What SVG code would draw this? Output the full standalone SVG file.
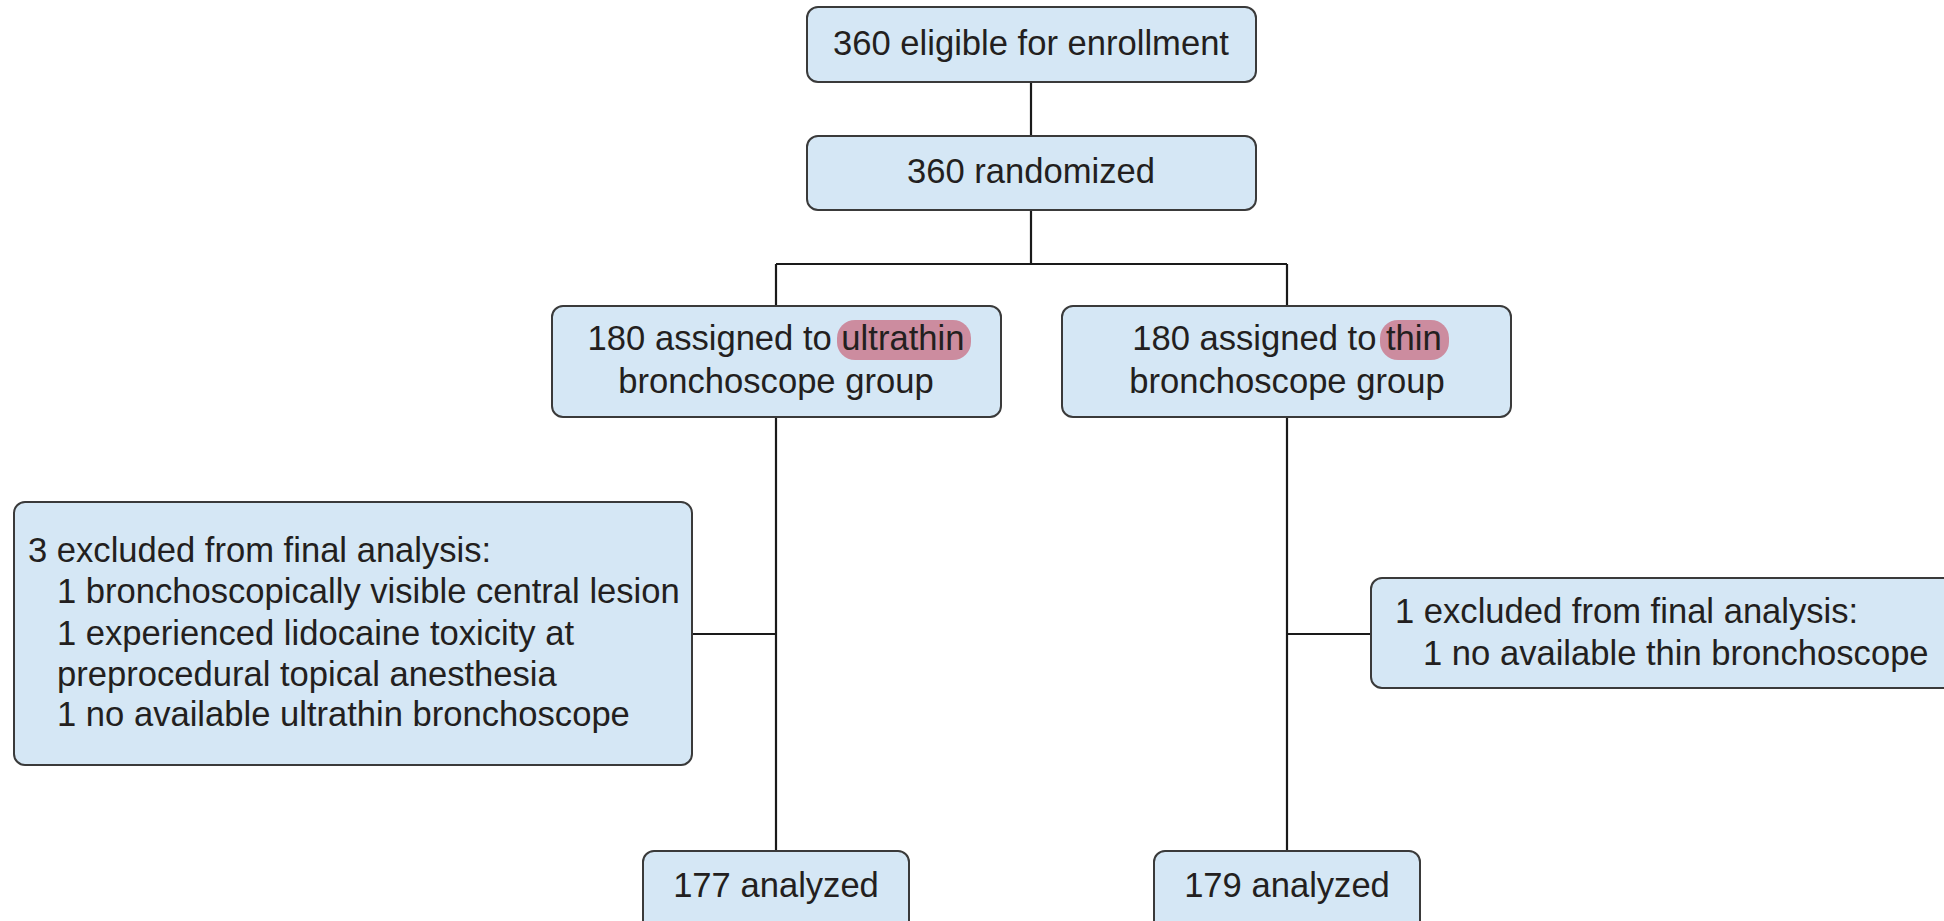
<svg xmlns="http://www.w3.org/2000/svg" width="1944" height="921" viewBox="0 0 1944 921">
<style>
.box{fill:#d5e7f5;stroke:#3a3a3a;stroke-width:2}
.t{font-family:"Liberation Sans",Arial,sans-serif;font-size:34.6px;fill:#231f20}
.c{text-anchor:middle}
.hl{fill:#cc8c9f}
.ln{stroke:#1a1a1a;stroke-width:2.2;fill:none}
</style>
<rect width="1944" height="921" fill="#ffffff"/>
<g id="connectors">
<path class="ln" d="M1031 82 V136"/>
<path class="ln" d="M1031 210 V264 M776 264 H1287 M776 264 V306 M1287 264 V306"/>
<path class="ln" d="M776 417 V851 M692 634 H776"/>
<path class="ln" d="M1287 417 V851 M1287 634 H1371"/>
</g>
<g id="n1">
<rect class="box" x="807" y="7" width="449" height="75" rx="11"/>
<text class="t c" x="1031" y="55">360 eligible for enrollment</text>
</g>
<g id="n2">
<rect class="box" x="807" y="136" width="449" height="74" rx="11"/>
<text class="t c" x="1031" y="183">360 randomized</text>
</g>
<g id="n3">
<rect class="box" x="552" y="306" width="449" height="111" rx="11"/>
<rect class="hl" x="837" y="320" width="134" height="40" rx="18"/>
<text class="t c" x="776" y="350">180 assigned to ultrathin</text>
<text class="t c" x="776" y="393">bronchoscope group</text>
</g>
<g id="n4">
<rect class="box" x="1062" y="306" width="449" height="111" rx="11"/>
<rect class="hl" x="1380" y="320" width="69" height="40" rx="18"/>
<text class="t c" x="1287" y="350">180 assigned to thin</text>
<text class="t c" x="1287" y="393">bronchoscope group</text>
</g>
<g id="n5">
<rect class="box" x="14" y="502" width="678" height="263" rx="11"/>
<text class="t" x="28" y="562">3 excluded from final analysis:</text>
<text class="t" x="57" y="603">1 bronchoscopically visible central lesion</text>
<text class="t" x="57" y="645">1 experienced lidocaine toxicity at</text>
<text class="t" x="57" y="686">preprocedural topical anesthesia</text>
<text class="t" x="57" y="726">1 no available ultrathin bronchoscope</text>
</g>
<g id="n6">
<rect class="box" x="1371" y="578" width="585" height="110" rx="11"/>
<text class="t" x="1395" y="623">1 excluded from final analysis:</text>
<text class="t" x="1423" y="665">1 no available thin bronchoscope</text>
</g>
<g id="n7">
<rect class="box" x="643" y="851" width="266" height="90" rx="11"/>
<text class="t c" x="776" y="897">177 analyzed</text>
</g>
<g id="n8">
<rect class="box" x="1154" y="851" width="266" height="90" rx="11"/>
<text class="t c" x="1287" y="897">179 analyzed</text>
</g>
</svg>
